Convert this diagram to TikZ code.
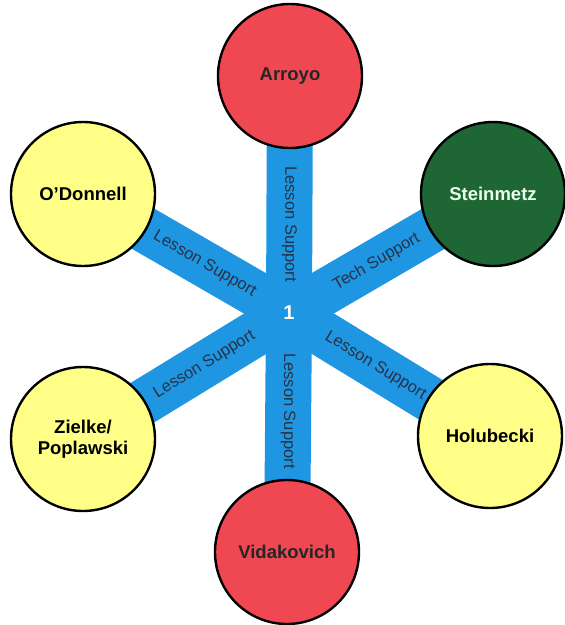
\documentclass[tikz,border=0pt]{standalone}
\usepackage{fontspec}
\setmainfont{Liberation Sans}
\usetikzlibrary{backgrounds}
\definecolor{barblue}{RGB}{30,150,225}
\definecolor{pyellow}{RGB}{255,255,135}
\definecolor{pred}{RGB}{240,72,82}
\definecolor{pgreen}{RGB}{30,102,52}
\definecolor{labelgray}{RGB}{40,50,70}
\tikzset{
  person/.style={circle, draw=black, line width=2.4pt, minimum size=144pt, inner sep=0pt, align=center, font=\fontsize{18.5}{21}\selectfont\bfseries},
  yellowp/.style={person, fill=pyellow, text=black},
  redp/.style={person, fill=pred, text=black!85},
  greenp/.style={person, fill=pgreen, text=white!92!green},
  bar/.style={draw=barblue, line width=46pt, line cap=butt},
  barlabel/.style={font=\fontsize{16.5}{18}\selectfont, text=labelgray, inner sep=0pt},
  hubnum/.style={font=\fontsize{20}{22}\selectfont\bfseries, text=white, inner sep=0pt}
}
\begin{document}
\begin{tikzpicture}[x=1pt,y=-1pt]
\useasboundingbox (0,0) rectangle (565,625);
\coordinate (hub) at (289,313);
\node[redp] (arroyo) at (290,76) {Arroyo};
\node[yellowp] (odonnell) at (83,194) {O’Donnell};
\node[greenp] (steinmetz) at (493,194) {Steinmetz};
\node[yellowp] (zielke) at (83,439) {Zielke/\\Poplawski};
\node[yellowp] (holubecki) at (490,436) {Holubecki};
\node[redp] (vidakovich) at (287,552) {Vidakovich};
\begin{scope}[on background layer]
\path[bar] (hub) -- (arroyo.center) node[barlabel, pos=0.375, rotate=-90] {Lesson Support};
\path[bar] (hub) -- (odonnell.center) node[barlabel, pos=0.41, sloped] {Lesson Support};
\path[bar] (hub) -- (steinmetz.center) node[barlabel, pos=0.43, sloped] {Tech Support};
\path[bar] (hub) -- (zielke.center) node[barlabel, pos=0.41, sloped] {Lesson Support};
\path[bar] (hub) -- (holubecki.center) node[barlabel, pos=0.43, sloped] {Lesson Support};
\path[bar] (hub) -- (vidakovich.center) node[barlabel, pos=0.41, rotate=-90] {Lesson Support};
\end{scope}
\node[hubnum] (one) at (hub) {1};
\end{tikzpicture}
\end{document}
